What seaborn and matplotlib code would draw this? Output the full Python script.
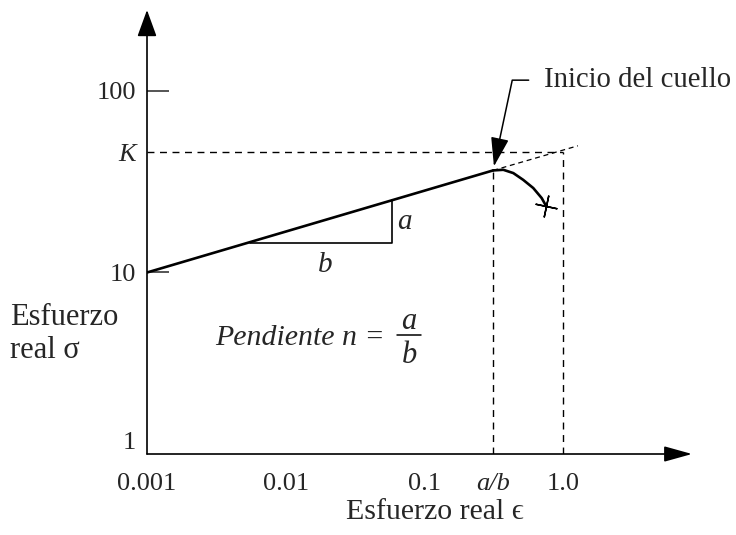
import matplotlib
matplotlib.use("Agg")
import matplotlib.pyplot as plt
from matplotlib.patches import ArrowStyle
import seaborn as sns

# Curva esfuerzo real - deformacion real (escala log-log)
strain_fit = [0.001, 0.313]
stress_fit = [10.0, 36.5]
strain_ext = [0.313, 1.28]
stress_ext = [36.5, 49.9]
strain_neck = [0.313, 0.371, 0.438, 0.516, 0.610, 0.702, 0.754]
stress_neck = [36.5, 36.8, 35.3, 32.4, 29.2, 25.7, 23.3]
strain_fracture = [0.754]
stress_fracture = [23.3]

# triangulo de la pendiente
tri_strain = [0.0055, 0.058, 0.058]
tri_stress = [14.6, 14.6, 25.0]

K = 46.0
eps_ab = 0.313

x_ticks = [0.001, 0.01, 0.1, eps_ab, 1.0]
x_ticklabels = ["0.001", "0.01", "0.1", "a/b", "1.0"]
y_major = [10, 100]
y_major_labels = ["10", "100"]
y_minor = [1, K]
y_minor_labels = ["1", "K"]

sns.set_theme(style="white")
plt.rcParams["font.family"] = ["Liberation Serif", "DejaVu Serif"]

fig = plt.figure(figsize=(7.36, 5.35), dpi=100)
ax = fig.add_axes([0.19973, 0.15140, 0.74049, 0.82991])
ax.set_xscale("log")
ax.set_yscale("log")
ax.set_xlim(0.001, 8.515)
ax.set_ylim(1, 279.4)
for s in ax.spines.values():
    s.set_visible(False)

# ejes con flecha
ax.annotate("", xy=(1, 0), xytext=(0, 0), xycoords="axes fraction",
            arrowprops=dict(arrowstyle=ArrowStyle("-|>", head_length=1.15, head_width=0.32),
                            mutation_scale=15, lw=1.2, color="black", shrinkA=0, shrinkB=0))
ax.annotate("", xy=(0, 1), xytext=(0, 0), xycoords="axes fraction",
            arrowprops=dict(arrowstyle=ArrowStyle("-|>", head_length=1.1, head_width=0.4),
                            mutation_scale=15, lw=1.2, color="black", shrinkA=0, shrinkB=0))

# lineas guia punteadas
dash = (0, (5, 4))
ax.plot([0.001, 1.0], [K, K], color="black", lw=1.0, linestyle=dash)
ax.plot([1.0, 1.0], [1, K], color="black", lw=1.0, linestyle=dash)
ax.plot([eps_ab, eps_ab], [1, stress_fit[-1]], color="black", lw=1.0, linestyle=dash)
sns.lineplot(x=strain_ext, y=stress_ext, color="black", lw=0.9, linestyle=(0, (4, 3)), ax=ax)

# curva principal
sns.lineplot(x=strain_fit, y=stress_fit, color="black", lw=1.9, ax=ax)
sns.lineplot(x=strain_neck, y=stress_neck, color="black", lw=1.9, sort=False,
             estimator=None, ax=ax)
ax.plot(strain_fracture, stress_fracture, linestyle="none", marker=(4, 2, -12),
        ms=16, mew=1.1, color="black")

# triangulo a/b
sns.lineplot(x=tri_strain, y=tri_stress, color="black", lw=1.2, sort=False,
             estimator=None, ax=ax)
ax.text(0.0192, 11.0, "b", fontsize=21, style="italic", ha="center", va="center")
ax.text(0.0713, 19.0, "a", fontsize=21, style="italic", ha="center", va="center")

# Pendiente n = a/b (fraccion armada a mano)
ax.text(0.00312, 3.99, "Pendiente n =", fontsize=21.5, style="italic",
        ha="left", va="baseline")
ax.text(0.0775, 5.34, "a", fontsize=22, style="italic", ha="center", va="center")
ax.text(0.0775, 3.51, "b", fontsize=22, style="italic", ha="center", va="center")
ax.plot([0.0636, 0.0946], [4.52, 4.52], color="black", lw=1.1)

ax.annotate("Inicio del cuello", xy=(eps_ab, stress_fit[-1]), xytext=(37, 65),
            textcoords="offset points", fontsize=20.7, ha="left", va="center",
            arrowprops=dict(arrowstyle=ArrowStyle("-|>", head_length=0.9, head_width=0.28),
                            mutation_scale=20, lw=1.1, color="black",
                            connectionstyle="angle,angleA=0,angleB=78,rad=0",
                            relpos=(0, 0.5), shrinkA=9, shrinkB=3))

# ticks
ax.set_xticks(x_ticks)
ax.set_xticklabels(x_ticklabels)
ax.set_xticks([], minor=True)
ax.tick_params(axis="x", which="both", length=0, pad=14, labelsize=19)
ax.get_xticklabels()[3].set_fontstyle("italic")

ax.set_yticks(y_major)
ax.set_yticklabels(y_major_labels)
ax.set_yticks(y_minor, minor=True)
ax.set_yticklabels(y_minor_labels, minor=True)
ax.tick_params(axis="y", which="major", direction="in", length=16, width=1.1,
               pad=8, labelsize=19, left=True)
ax.tick_params(axis="y", which="minor", length=0, pad=8, labelsize=19)
ax.get_yticklabels(minor=True)[1].set_fontstyle("italic")
ax.get_yticklabels(minor=True)[0].set_verticalalignment("bottom")

ax.set_xlabel("Esfuerzo real ϵ", fontsize=21.5, va="center")
ax.xaxis.set_label_coords(0.528, -0.131)
ax.set_ylabel("Esfuerzo\nreal σ", fontsize=22, rotation=0, ha="left", va="center",
              multialignment="left", linespacing=1.18)
ax.yaxis.set_label_coords(-0.251, 0.27)

fig.savefig("out.png", dpi=100)
